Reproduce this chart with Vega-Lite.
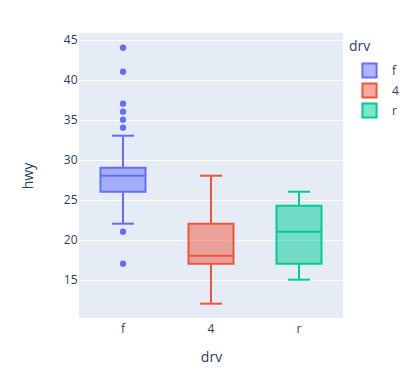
{
  "$schema": "https://vega.github.io/schema/vega-lite/v6.json",
  "width": 264,
  "height": 285,
  "autosize": {"type": "none"},
  "padding": {"left": 79, "top": 33, "right": 63, "bottom": 60},
  "background": "white",
  "config": {
    "font": "Open Sans",
    "view": {"fill": "#E5ECF6", "stroke": null},
    "axis": {
      "domain": false, "ticks": false,
      "labelColor": "#2a3f5f", "labelFontSize": 12, "labelFont": "Open Sans",
      "titleColor": "#2a3f5f", "titleFontSize": 14, "titleFont": "Open Sans", "titleFontWeight": "normal",
      "gridColor": "white", "gridWidth": 1, "gridOpacity": 1
    },
    "legend": {
      "titleColor": "#2a3f5f", "titleFontSize": 14, "titleFontWeight": "normal", "titleFont": "Open Sans",
      "labelColor": "#2a3f5f", "labelFontSize": 12, "labelFont": "Open Sans"
    }
  },
  "datasets": {
    "stats": [
      {"drv": "f", "low": 22, "q1": 26, "median": 28, "q3": 29, "high": 33},
      {"drv": "4", "low": 12, "q1": 17, "median": 18, "q3": 22, "high": 28},
      {"drv": "r", "low": 15, "q1": 17, "median": 21, "q3": 24.25, "high": 26}
    ],
    "outliers": [
      {"drv": "f", "hwy": 44},
      {"drv": "f", "hwy": 41},
      {"drv": "f", "hwy": 37},
      {"drv": "f", "hwy": 36},
      {"drv": "f", "hwy": 35},
      {"drv": "f", "hwy": 34},
      {"drv": "f", "hwy": 21},
      {"drv": "f", "hwy": 17}
    ]
  },
  "encoding": {
    "x": {
      "field": "drv", "type": "nominal", "sort": ["f", "4", "r"],
      "scale": {"domain": ["f", "4", "r"], "paddingInner": 0, "paddingOuter": 0},
      "axis": {"labelAngle": 0, "labelPadding": 5, "titlePadding": 16, "grid": false, "title": "drv"}
    }
  },
  "layer": [
    {
      "data": {"name": "stats"},
      "mark": {"type": "bar", "size": 45, "fillOpacity": 0.5, "strokeWidth": 2},
      "encoding": {
        "y": {"field": "q1", "type": "quantitative",
          "scale": {"domain": [10.21, 45.84], "nice": false, "zero": false},
          "axis": {"values": [15, 20, 25, 30, 35, 40, 45], "labelPadding": 2, "titlePadding": 28, "title": "hwy", "grid": true}},
        "y2": {"field": "q3"},
        "color": {"field": "drv", "type": "nominal",
          "scale": {"domain": ["f", "4", "r"], "range": ["#636efa", "#EF553B", "#00cc96"]},
          "legend": {
            "title": "drv", "orient": "none", "legendX": 270, "legendY": 7,
            "symbolType": "square", "symbolSize": 200, "symbolOffset": 12, "rowPadding": -3, "labelOffset": 14,
            "titlePadding": 8,
            "encode": {"symbols": {"update": {"stroke": {"scale": "color", "field": "value"}, "strokeWidth": {"value": 2}, "fillOpacity": {"value": 0.5}, "opacity": {"value": 1}}}}
          }},
        "stroke": {"field": "drv", "type": "nominal", "scale": {"domain": ["f", "4", "r"], "range": ["#636efa", "#EF553B", "#00cc96"]}, "legend": null}
      }
    },
    {
      "data": {"name": "stats"},
      "mark": {"type": "rule", "strokeWidth": 2},
      "encoding": {
        "y": {"field": "low", "type": "quantitative"},
        "y2": {"field": "q1"},
        "color": {"field": "drv", "type": "nominal"}
      }
    },
    {
      "data": {"name": "stats"},
      "mark": {"type": "rule", "strokeWidth": 2},
      "encoding": {
        "y": {"field": "q3", "type": "quantitative"},
        "y2": {"field": "high"},
        "color": {"field": "drv", "type": "nominal"}
      }
    },
    {
      "data": {"name": "stats"},
      "mark": {"type": "tick", "size": 45, "thickness": 2, "opacity": 1},
      "encoding": {
        "y": {"field": "median", "type": "quantitative"},
        "color": {"field": "drv", "type": "nominal"}
      }
    },
    {
      "data": {"name": "stats"},
      "mark": {"type": "tick", "size": 22, "thickness": 2, "opacity": 1},
      "encoding": {
        "y": {"field": "low", "type": "quantitative"},
        "color": {"field": "drv", "type": "nominal"}
      }
    },
    {
      "data": {"name": "stats"},
      "mark": {"type": "tick", "size": 22, "thickness": 2, "opacity": 1},
      "encoding": {
        "y": {"field": "high", "type": "quantitative"},
        "color": {"field": "drv", "type": "nominal"}
      }
    },
    {
      "data": {"name": "outliers"},
      "mark": {"type": "circle", "size": 40, "opacity": 1},
      "encoding": {
        "y": {"field": "hwy", "type": "quantitative"},
        "color": {"field": "drv", "type": "nominal"}
      }
    }
  ]
}
